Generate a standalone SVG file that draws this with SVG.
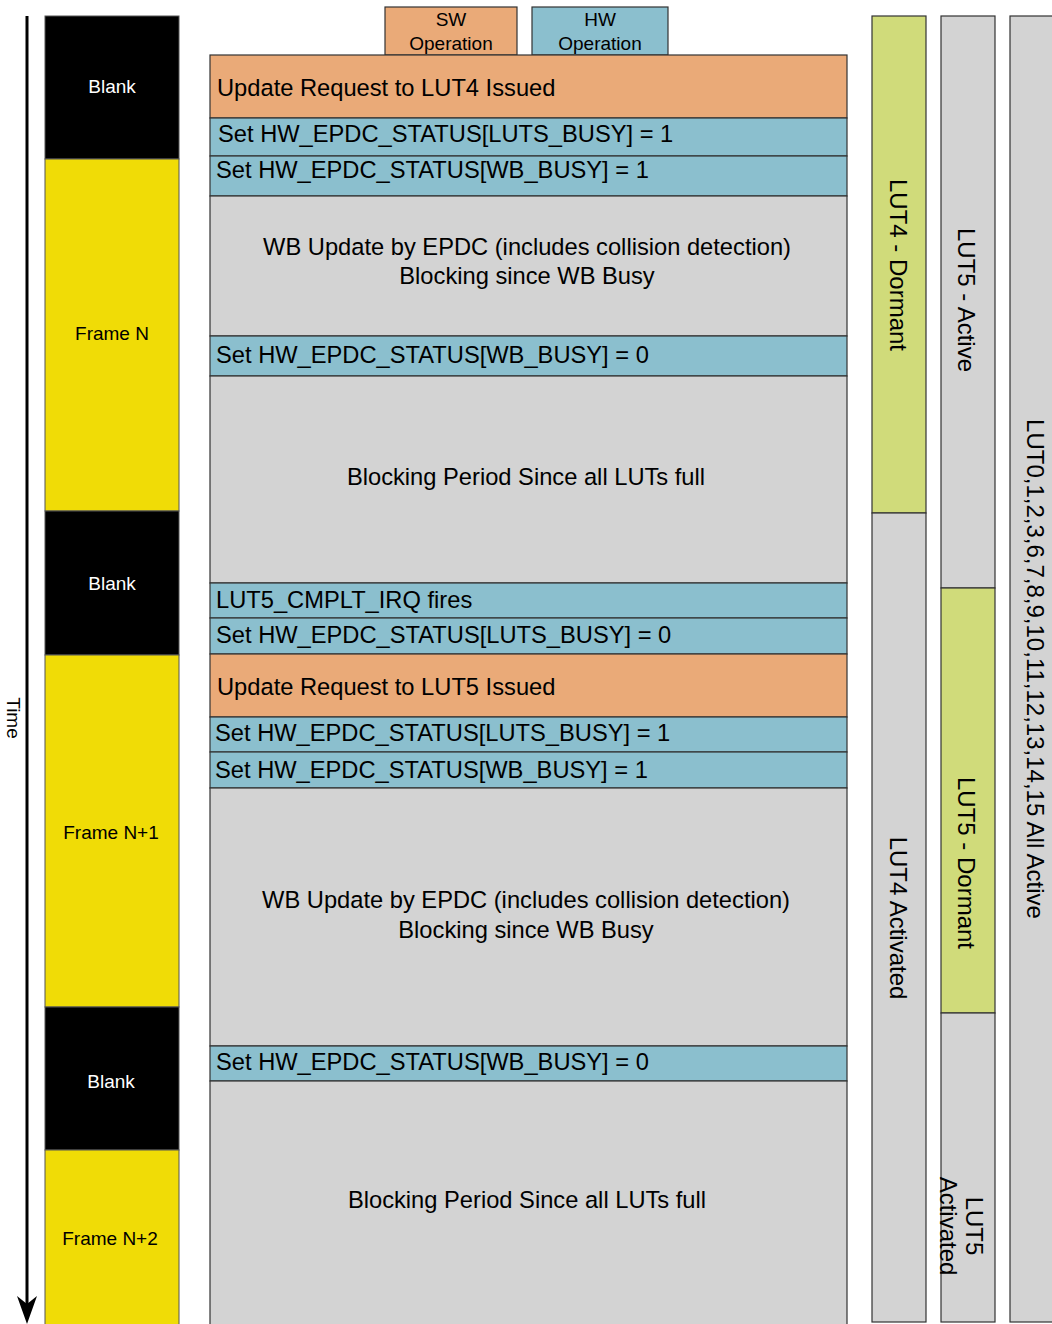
<svg xmlns="http://www.w3.org/2000/svg" width="1052" height="1324" viewBox="0 0 1052 1324">
<defs>
<style>
text{font-family:"Liberation Sans",Arial,sans-serif;fill:#000}
.fr{stroke:#555;stroke-width:1}
.blank{fill:#000}
.frame{fill:#F0DC06}
.sw{fill:#EAAA78;stroke:#333;stroke-width:1.2}
.hw{fill:#8BBFCE;stroke:#333;stroke-width:1.2}
.gr{fill:#D3D3D3;stroke:#333;stroke-width:1.2}
.gn{fill:#D0DB7A;stroke:#333;stroke-width:1.2}
.lbl{font-size:19px;text-anchor:middle;dominant-baseline:central}
.w{fill:#fff}
.t{font-size:23.7px;dominant-baseline:central}
.c{font-size:23.7px;text-anchor:middle;dominant-baseline:central}
.r{font-size:24px;text-anchor:middle;dominant-baseline:central}
</style>
</defs>

<g id="connectors">
<line x1="27" y1="16" x2="27" y2="1310" stroke="#000" stroke-width="3"/>
<path d="M17,1296 L27,1304 L37,1296 L27,1324 Z" fill="#000"/>
</g>
<text class="lbl" transform="translate(13,718) rotate(90)">Time</text>

<g id="timeline">
<g id="blank1"><rect class="blank fr" x="45" y="16" width="134" height="143"/><text class="lbl w" x="112" y="86">Blank</text></g>
<g id="frameN"><rect class="frame fr" x="45" y="159" width="134" height="352"/><text class="lbl" x="112" y="333">Frame N</text></g>
<g id="blank2"><rect class="blank fr" x="45" y="511" width="134" height="144"/><text class="lbl w" x="112" y="583">Blank</text></g>
<g id="frameN1"><rect class="frame fr" x="45" y="655" width="134" height="352"/><text class="lbl" x="111" y="832">Frame N+1</text></g>
<g id="blank3"><rect class="blank fr" x="45" y="1007" width="134" height="143"/><text class="lbl w" x="111" y="1081">Blank</text></g>
<g id="frameN2"><rect class="frame fr" x="45" y="1150" width="134" height="180"/><text class="lbl" x="110" y="1238">Frame N+2</text></g>
</g>

<g id="legend">
<g id="legend-sw"><rect class="sw" x="385" y="7" width="132" height="48"/><text class="lbl" x="451" y="19">SW</text><text class="lbl" x="451" y="43">Operation</text></g>
<g id="legend-hw"><rect class="hw" x="532" y="7" width="136" height="48"/><text class="lbl" x="600" y="19">HW</text><text class="lbl" x="600" y="43">Operation</text></g>
</g>

<g id="main">
<g id="r1"><rect class="sw" x="210" y="55" width="637" height="63"/><text class="t" x="217" y="88">Update Request to LUT4 Issued</text></g>
<g id="r2"><rect class="hw" x="210" y="118" width="637" height="38"/><text class="t" x="218" y="134">Set HW_EPDC_STATUS[LUTS_BUSY] = 1</text></g>
<g id="r3"><rect class="hw" x="210" y="156" width="637" height="40"/><text class="t" x="216" y="170">Set HW_EPDC_STATUS[WB_BUSY] = 1</text></g>
<g id="r4"><rect class="gr" x="210" y="196" width="637" height="140"/><text class="c" x="527" y="247">WB Update by EPDC (includes collision detection)</text><text class="c" x="527" y="276">Blocking since WB Busy</text></g>
<g id="r5"><rect class="hw" x="210" y="336" width="637" height="40"/><text class="t" x="216" y="355">Set HW_EPDC_STATUS[WB_BUSY] = 0</text></g>
<g id="r6"><rect class="gr" x="210" y="376" width="637" height="207"/><text class="c" x="526" y="477">Blocking Period Since all LUTs full</text></g>
<g id="r7"><rect class="hw" x="210" y="583" width="637" height="35"/><text class="t" x="216" y="600">LUT5_CMPLT_IRQ fires</text></g>
<g id="r8"><rect class="hw" x="210" y="618" width="637" height="36"/><text class="t" x="216" y="635">Set HW_EPDC_STATUS[LUTS_BUSY] = 0</text></g>
<g id="r9"><rect class="sw" x="210" y="654" width="637" height="63"/><text class="t" x="217" y="687">Update Request to LUT5 Issued</text></g>
<g id="r10"><rect class="hw" x="210" y="717" width="637" height="35"/><text class="t" x="215" y="733">Set HW_EPDC_STATUS[LUTS_BUSY] = 1</text></g>
<g id="r11"><rect class="hw" x="210" y="752" width="637" height="36"/><text class="t" x="215" y="770">Set HW_EPDC_STATUS[WB_BUSY] = 1</text></g>
<g id="r12"><rect class="gr" x="210" y="788" width="637" height="258"/><text class="c" x="526" y="900">WB Update by EPDC (includes collision detection)</text><text class="c" x="526" y="930">Blocking since WB Busy</text></g>
<g id="r13"><rect class="hw" x="210" y="1046" width="637" height="35"/><text class="t" x="216" y="1062">Set HW_EPDC_STATUS[WB_BUSY] = 0</text></g>
<g id="r14"><rect class="gr" x="210" y="1081" width="637" height="250"/><text class="c" x="527" y="1200">Blocking Period Since all LUTs full</text></g>
</g>

<g id="lut4">
<g id="lut4-dormant"><rect class="gn" x="872" y="16" width="54" height="497"/><text class="r" transform="translate(898,265) rotate(90)">LUT4 - Dormant</text></g>
<g id="lut4-activated"><rect class="gr" x="872" y="513" width="54" height="809"/><text class="r" transform="translate(898,918) rotate(90)">LUT4 Activated</text></g>
</g>
<g id="lut5">
<g id="lut5-active"><rect class="gr" x="941" y="16" width="54" height="572"/><text class="r" transform="translate(966,300) rotate(90)">LUT5 - Active</text></g>
<g id="lut5-dormant"><rect class="gn" x="941" y="588" width="54" height="425"/><text class="r" transform="translate(966,863) rotate(90)">LUT5 - Dormant</text></g>
<g id="lut5-activated"><rect class="gr" x="941" y="1013" width="54" height="309"/><text class="r" transform="translate(962,1226) rotate(90)"><tspan x="0" y="-13">LUT5</tspan><tspan x="0" y="13">Activated</tspan></text></g>
</g>
<g id="luts-all">
<rect class="gr" x="1010" y="16" width="54" height="1306"/>
<text class="r" transform="translate(1035,669) rotate(90)">LUT0,1,2,3,6,7,8,9,10,11,12,13,14,15 All Active</text>
</g>
</svg>
